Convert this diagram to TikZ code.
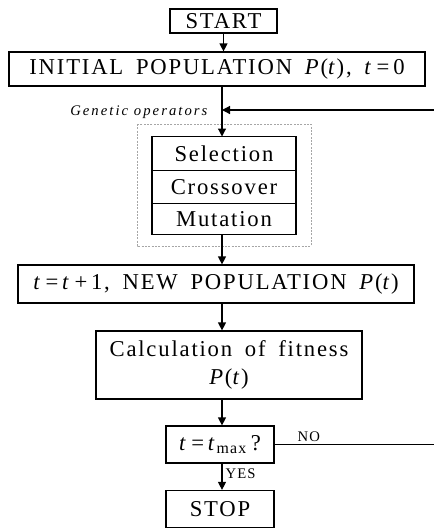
\documentclass[tikz,border=0pt]{standalone}
\usepackage{fontspec}
\setmainfont[LetterSpace=8,WordSpace=1.7]{Liberation Serif}
\newfontfamily\opsfont[LetterSpace=14]{Liberation Serif}
\usepackage{tikz}
\usetikzlibrary{positioning,arrows.meta}

\tikzset{
  box/.style={draw, line width=0.9pt, inner sep=0pt, align=center, font=\fontsize{17}{21}\selectfont},
  opbox/.style={box, minimum width=108pt, outer sep=0pt},
  flow/.style={line width=0.9pt, -{Triangle[length=6pt,width=6pt]}},
  plain/.style={line width=0.9pt},
  opsframe/.style={draw=gray!70, line width=0.4pt, dash pattern=on 1.5pt off 1pt},
  tag/.style={font=\fontsize{11}{13}\selectfont, inner sep=1pt}
}

\begin{document}
\begin{tikzpicture}[x=0.75pt,y=0.75pt,yscale=-1,xscale=1]
\useasboundingbox (0,0) rectangle (434,529);

%Shape: Rectangle (genetic operators frame)
\draw [opsframe] (137,124) rectangle (311,246);

% Boxes
\node [box, minimum width=80.25pt, minimum height=18pt] (start) at (223.5,21) {START};
\node [box, minimum width=312pt, minimum height=25.5pt] (init) at (217,69) {INITIAL POPULATION \textit{P}(\textit{t}), \textit{t}\,=\,0};
\node [opbox, minimum height=25.5pt] (sel) at (224,153.5) {Selection};
\node [opbox, minimum height=24.75pt, below=0pt of sel] (cross) {Crossover};
\node [opbox, minimum height=23.25pt, below=0pt of cross] (mut) {Mutation};
\node [box, minimum width=297pt, minimum height=28.5pt] (newpop) at (216,284) {\textit{t}\,=\,\textit{t}\,+\,1, NEW POPULATION \textit{P}(\textit{t})};
\node [box, minimum width=199.5pt, minimum height=51pt] (fit) at (229,365) {Calculation of fitness\\\textit{P}(\textit{t})};
\node [box, minimum width=81pt, minimum height=27.75pt] (test) at (220,444.5) {\textit{t}\,=\,\textit{t}\textsubscript{max}\,?};
\node [box, minimum width=81pt, minimum height=27.75pt] (stop) at (220,509) {STOP};

% Text Node
\node [tag, anchor=east] (opslabel) at (209,112) {\opsfont\itshape Genetic operators};

% loop ends at the picture edge
\coordinate (fbin) at (222,110);
\coordinate (fbR) at (434,110);
\coordinate (noR) at (434,445);

% Connectors
\draw [flow] (start) -- (start |- init.north);
\draw [flow] (init.south -| fbin) -- (sel.north -| fbin);
\draw [flow] (fbR) -- (fbin);
\draw [flow] (mut.south -| fbin) -- (newpop.north -| fbin);
\draw [flow] (newpop.south -| fbin) -- (fit.north -| fbin);
\draw [flow] (fit.south -| fbin) -- (test.north -| fbin);
\draw [flow] (test.south -| fbin) -- (stop.north -| fbin);
\draw [plain] (test.east) -- (test.east -| noR);

% Text Node
\node [tag, anchor=south west] (nolabel) at (296,443) {NO};
\node [tag, anchor=west] (yeslabel) at (224,474) {YES};
\end{tikzpicture}
\end{document}
